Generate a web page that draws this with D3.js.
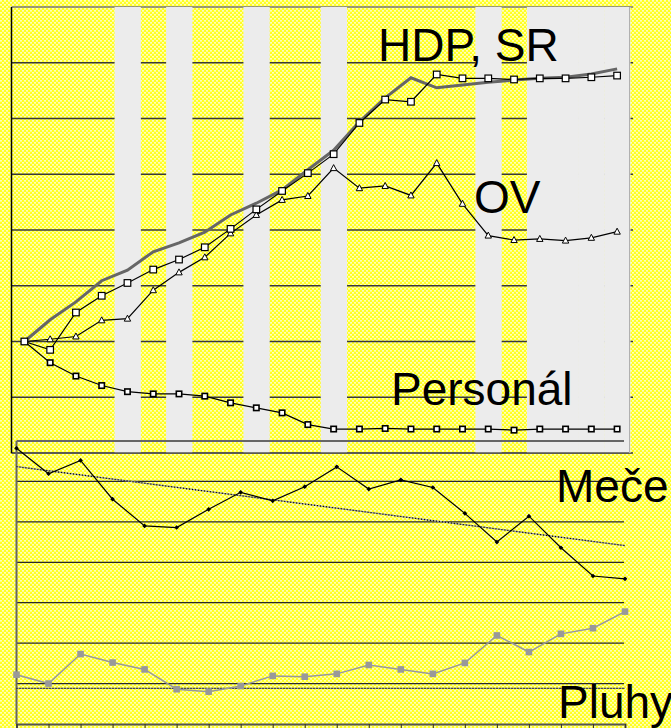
<!DOCTYPE html>
<html>
<head>
<meta charset="utf-8">
<script src="https://cdnjs.cloudflare.com/ajax/libs/d3/7.8.5/d3.min.js"></script>
<style>
  html, body { margin: 0; padding: 0; background: #ffff60; }
  svg { display: block; }
  text { font-family: "Liberation Sans", Arial, sans-serif; }
</style>
</head>
<body>
<script>
// top panel: 24 periods, index (start = 100)
const periods = ['1','2','3','4','5','6','7','8','9','10','11','12',
                 '13','14','15','16','17','18','19','20','21','22','23','24'];
// shaded periods (grey columns)
const shaded = [0,0,0,0,1,0,1,0,0,1,0,0,1,0,0,0,0,0,1,0,1,1,1,1];

const hdpSR = [100, 103.9, 107.1, 110.9, 112.8, 116.1, 117.7, 119.6, 122.7, 124.8, 127.2, 130.8,
               134.3, 139.4, 143.7, 147.3, 145.5, 146.0, 146.5, 146.9, 147.2, 147.4, 148.0, 148.9];
const trzby = [100, 98.5, 105.2, 108.2, 110.5, 112.9, 114.7, 116.9, 120.2, 123.7, 127.0, 130.2,
               133.6, 139.2, 143.4, 143.0, 147.9, 147.2, 147.2, 147.0, 147.2, 147.2, 147.4, 147.7];
const ov = [100, 100.4, 100.9, 103.8, 104.1, 109.2, 112.4, 115.1, 119.4, 122.7, 125.4, 126.1,
            131.1, 127.5, 127.9, 126.2, 132.0, 124.7, 119.0, 118.2, 118.4, 118.1, 118.6, 119.7];
const personal = [100, 96.2, 93.8, 92.1, 91.0, 90.6, 90.6, 90.2, 89.0, 88.1, 87.2, 85.1,
                  84.3, 84.3, 84.4, 84.3, 84.3, 84.3, 84.3, 84.1, 84.3, 84.3, 84.3, 84.3];
const topTicks = [80, 90, 100, 110, 120, 130, 140, 150, 160];

// bottom panel: 20 periods
const periods2 = ['1','2','3','4','5','6','7','8','9','10',
                  '11','12','13','14','15','16','17','18','19','20'];
const mece = [68.2, 61.9, 65.2, 55.6, 49.0, 48.6, 53.1, 57.3, 55.2, 58.7,
              63.6, 58.1, 60.4, 58.5, 52.1, 45.0, 51.4, 43.6, 36.6, 35.9];
const pluhy = [12.2, 10.0, 17.3, 15.2, 13.5, 8.6, 8.0, 9.4, 11.9, 11.7,
               12.4, 14.6, 13.5, 12.4, 15.1, 21.9, 17.8, 22.3, 23.7, 27.8];
const pluhyRef = 8.8;
const bottomTicks = [0, 10, 20, 30, 40, 50, 60, 70];

const width = 671, height = 728;

const svg = d3.select('body').append('svg')
    .attr('width', width)
    .attr('height', height);

// yellow dotted fill
let defs = svg.append('defs');
let pat = defs.append('pattern')
    .attr('id', 'dots')
    .attr('width', 4).attr('height', 4)
    .attr('patternUnits', 'userSpaceOnUse');
pat.append('rect').attr('width', 4).attr('height', 4).attr('fill', '#ffff22');
[[0, 0], [2, 2]].forEach(p => {
    pat.append('rect').attr('x', p[0]).attr('y', p[1]).attr('width', 2).attr('height', 1)
        .attr('fill', '#ffffb8');
    pat.append('rect').attr('x', p[0] + 0.5).attr('y', p[1] + 1).attr('width', 1).attr('height', 1)
        .attr('fill', '#ffffe8');
});

svg.append('rect')
    .attr('width', width).attr('height', height)
    .attr('fill', 'url(#dots)');

// ---------- top panel ----------
let x1 = d3.scaleBand().domain(periods).range([11.5, 630]);
let y1 = d3.scaleLinear().domain([80, 160]).range([453, 7]);
let cx1 = d => x1(d) + x1.bandwidth() / 2;

let topG = svg.append('g').classed('top', true);

topG.selectAll('line.grid')
    .data(topTicks)
    .enter().append('line')
    .classed('grid', true)
    .attr('x1', 11.5).attr('x2', 633)
    .attr('y1', d => y1(d)).attr('y2', d => y1(d))
    .attr('stroke', d => d === 160 ? '#777' : '#3a3a3a')
    .attr('stroke-width', 1.3);

topG.selectAll('rect.shade')
    .data(periods.filter((p, i) => shaded[i]))
    .enter().append('rect')
    .classed('shade', true)
    .attr('x', d => x1(d))
    .attr('width', x1.bandwidth() + 0.5)
    .attr('y', y1(160))
    .attr('height', y1(80) - y1(160))
    .attr('fill', '#ececec');

// right border
topG.append('line')
    .attr('x1', 629.5).attr('x2', 629.5)
    .attr('y1', y1(160)).attr('y2', y1(80))
    .attr('stroke', '#b0b0b0').attr('stroke-width', 1);

// ---------- bottom panel ----------
let x2 = d3.scalePoint().domain(periods2).range([16.5, 625]);
let y2 = d3.scaleLinear().domain([0, 70]).range([724, 441]);

let botG = svg.append('g').classed('bottom', true);

botG.selectAll('line.grid')
    .data(bottomTicks.slice(1, -1))
    .enter().append('line')
    .classed('grid', true)
    .attr('x1', 16.5).attr('x2', 624)
    .attr('y1', d => y2(d)).attr('y2', d => y2(d))
    .attr('stroke', '#2a2a2a')
    .attr('stroke-width', 1.3);

botG.append('line')
    .attr('x1', 16.5).attr('x2', 624)
    .attr('y1', y2(70)).attr('y2', y2(70))
    .attr('stroke', '#666').attr('stroke-width', 2);
botG.append('line')
    .attr('x1', 16.5).attr('x2', 16.5)
    .attr('y1', y2(70)).attr('y2', y2(0))
    .attr('stroke', '#666').attr('stroke-width', 2);

// bottom x axis
botG.append('g')
    .attr('transform', `translate(0,${y2(0)})`)
    .call(d3.axisBottom(x2).tickSize(4).tickFormat(''))
    .call(g => g.select('.domain').attr('stroke', '#555').attr('stroke-width', 2))
    .call(g => g.selectAll('.tick line').attr('stroke', '#333'));

// top panel axes drawn over bands
topG.append('line')
    .attr('x1', 11.5).attr('x2', 629)
    .attr('y1', y1(80)).attr('y2', y1(80))
    .attr('stroke', '#555').attr('stroke-width', 1.5);
topG.append('line')
    .attr('x1', 11.5).attr('x2', 11.5)
    .attr('y1', y1(160)).attr('y2', y1(80))
    .attr('stroke', '#000').attr('stroke-width', 1.5);

// trend lines (bottom)
let n = mece.length;
let xm = d3.mean(d3.range(n)), ym = d3.mean(mece);
let slope = d3.sum(mece, (v, i) => (i - xm) * (v - ym)) / d3.sum(mece, (v, i) => (i - xm) * (i - xm));
let trend = [ym - slope * xm, ym + slope * (n - 1 - xm)];

function dottedLine(xa, ya, xb, yb){
    botG.append('line')
        .attr('x1', xa).attr('y1', ya).attr('x2', xb).attr('y2', yb)
        .attr('stroke', '#999').attr('stroke-width', 1.3);
    botG.append('line')
        .attr('x1', xa).attr('y1', ya).attr('x2', xb).attr('y2', yb)
        .attr('stroke', '#000').attr('stroke-width', 1.3)
        .attr('stroke-dasharray', '1,2');
}
dottedLine(x2(periods2[0]), y2(trend[0]), x2(periods2[n - 1]), y2(trend[1]));
dottedLine(x2(periods2[0]), y2(pluhyRef), x2(periods2[n - 1]), y2(pluhyRef));

let line2 = d3.line()
    .x((d, i) => x2(periods2[i]))
    .y(d => y2(d));

botG.append('path')
    .datum(pluhy)
    .attr('d', line2)
    .attr('fill', 'none').attr('stroke', '#999').attr('stroke-width', 1.5);
botG.selectAll('rect.pluhy')
    .data(pluhy)
    .enter().append('rect')
    .classed('pluhy', true)
    .attr('x', (d, i) => x2(periods2[i]) - 3.3)
    .attr('y', d => y2(d) - 3.3)
    .attr('width', 6.6).attr('height', 6.6)
    .attr('fill', '#999');

botG.append('path')
    .datum(mece)
    .attr('d', line2)
    .attr('fill', 'none').attr('stroke', '#000').attr('stroke-width', 1.2);
botG.selectAll('path.mece')
    .data(mece)
    .enter().append('path')
    .classed('mece', true)
    .attr('d', d3.symbol(d3.symbolDiamond2, 14))
    .attr('transform', (d, i) => `translate(${x2(periods2[i])},${y2(d)})`)
    .attr('fill', '#000');

// ---------- top panel series ----------
let line1 = d3.line()
    .x((d, i) => cx1(periods[i]))
    .y(d => y1(d));

topG.append('path')
    .datum(hdpSR)
    .attr('d', line1)
    .attr('fill', 'none').attr('stroke', '#666').attr('stroke-width', 3);

function series(data, marker){
    topG.append('path')
        .datum(data)
        .attr('d', line1)
        .attr('fill', 'none').attr('stroke', '#000').attr('stroke-width', 1.2);
    let m = topG.selectAll('g.m' + marker)
        .data(data)
        .enter().append('g')
        .classed('m' + marker, true)
        .attr('transform', (d, i) => `translate(${cx1(periods[i])},${y1(d)})`);
    if(marker === 'sq'){
        m.append('rect')
            .attr('x', -3.3).attr('y', -3.3).attr('width', 6.6).attr('height', 6.6)
            .attr('fill', '#fff').attr('stroke', '#000').attr('stroke-width', 1.2);
    } else if(marker === 'tri'){
        m.append('path')
            .attr('d', 'M0,-3.5L3.2,2.5L-3.2,2.5Z')
            .attr('fill', '#fff').attr('stroke', '#000').attr('stroke-width', 1);
    } else {
        m.append('rect')
            .attr('x', -2.7).attr('y', -2.7).attr('width', 5.4).attr('height', 5.4)
            .attr('fill', '#fff').attr('stroke', '#000').attr('stroke-width', 1.6);
    }
}
series(personal, 'small');
series(ov, 'tri');
series(trzby, 'sq');

// labels
let labels = [
    {t: 'HDP, SR', x: 378, y: 61},
    {t: 'OV', x: 474, y: 213},
    {t: 'Personál', x: 391, y: 405},
    {t: 'Meče', x: 556, y: 502},
    {t: 'Pluhy', x: 558, y: 718}
];
svg.selectAll('text.lbl')
    .data(labels)
    .enter().append('text')
    .classed('lbl', true)
    .attr('x', d => d.x).attr('y', d => d.y)
    .attr('font-size', 46)
    .attr('fill', '#000')
    .text(d => d.t);
</script>
</body>
</html>
